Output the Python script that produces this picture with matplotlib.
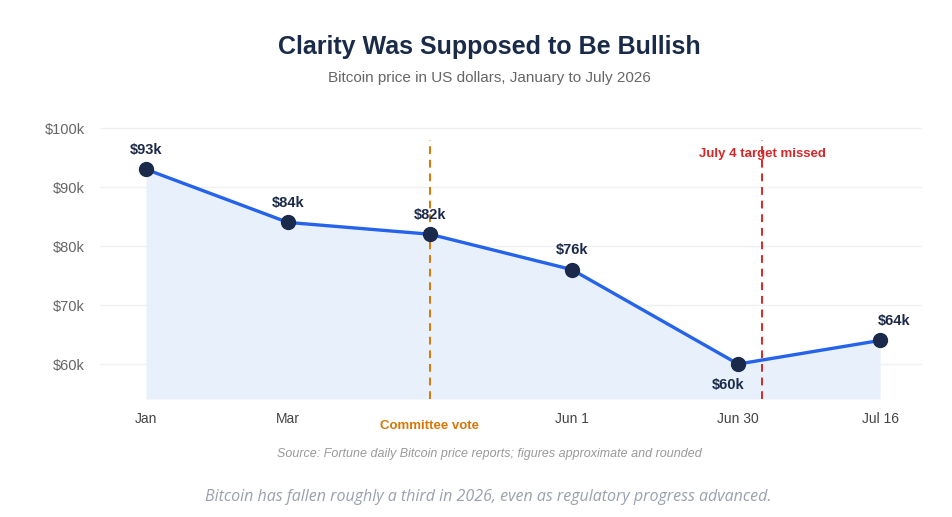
import matplotlib.pyplot as plt

# data
labels = ["Jan", "Mar", "", "Jun 1", "Jun 30", "Jul 16"]
x_pos = [0, 1, 2, 3, 4.17, 5.17]
price_k = [93, 84, 82, 76, 60, 64]
point_labels = ["$93k", "$84k", "$82k", "$76k", "$60k", "$64k"]
y_ticks = [60, 70, 80, 90, 100]
vote_x = 2
target_x = 4.34

plt.rcParams['font.family'] = ['Liberation Sans', 'DejaVu Sans']

fig = plt.figure(figsize=(9.52, 5.17), dpi=100)
ax = fig.add_axes([0.105, 0.2282, 0.8635, 0.5436])

ymin, ymax = 54.07, 101.7
ax.set_xlim(-0.324, 5.465)
ax.set_ylim(ymin, ymax)

for y in y_ticks:
    ax.axhline(y, color="#eef0f3", lw=1, zorder=0)

ax.fill_between(x_pos, price_k, ymin, color="#e8f0fc", zorder=1, lw=0)
ax.plot(x_pos, price_k, color="#2563eb", lw=2.4, zorder=3,
        marker="o", markersize=10, markerfacecolor="#1b2a4a",
        markeredgecolor="#1b2a4a")

for x, v, t in zip(x_pos, price_k, point_labels):
    if t == "$60k":
        dx, dy, va = -7, -10, "top"
    elif t == "$64k":
        dx, dy, va = 10, 9, "bottom"
    else:
        dx, dy, va = 0, 9, "bottom"
    ax.annotate(t, (x, v), xytext=(dx, dy), textcoords="offset points",
                ha="center", va=va, fontsize=10.5, fontweight="bold",
                color="#1b2a4a")

# event lines
ax.vlines(vote_x, ymin, 98, colors="#d97706", linestyles=(0, (4, 3)), lw=1.4, zorder=2)
ax.vlines(target_x, ymin, 98, colors="#d62828", linestyles=(0, (4, 3)), lw=1.4, zorder=2)
ax.text(target_x, 95.6, "July 4 target missed", ha="center", va="center",
        fontsize=9.5, fontweight="bold", color="#d62828")
ax.text(vote_x, ymin - 4.5, "Committee vote", ha="center", va="center",
        fontsize=9.5, fontweight="bold", color="#d97706")

ax.set_xticks(x_pos)
ax.set_xticklabels(labels, fontsize=10, color="#444444")
ax.set_yticks(y_ticks)
ax.set_yticklabels([f"${v}k" for v in y_ticks], fontsize=10.5, color="#666666")
ax.tick_params(length=0)
ax.tick_params(axis="x", pad=9)
ax.tick_params(axis="y", pad=11)
for s in ax.spines.values():
    s.set_visible(False)

fig.text(0.514, 1 - 47 / 517, "Clarity Was Supposed to Be Bullish", ha="center",
         va="center", fontsize=18, fontweight="bold", color="#1a2b4a")
fig.text(0.514, 1 - 78 / 517, "Bitcoin price in US dollars, January to July 2026",
         ha="center", va="center", fontsize=11, color="#666666")
fig.text(0.514, 1 - 454 / 517,
         "Source: Fortune daily Bitcoin price reports; figures approximate and rounded",
         ha="center", va="center", fontsize=9, style="italic", color="#999999")
fig.text(0.513, 1 - 497 / 517,
         "Bitcoin has fallen roughly a third in 2026, even as regulatory progress advanced.",
         ha="center", va="center", fontsize=11.5, style="italic", color="#9aa0ad",
         family=["Open Sans", "DejaVu Sans"])

fig.savefig("out.png", dpi=100, facecolor="white")
